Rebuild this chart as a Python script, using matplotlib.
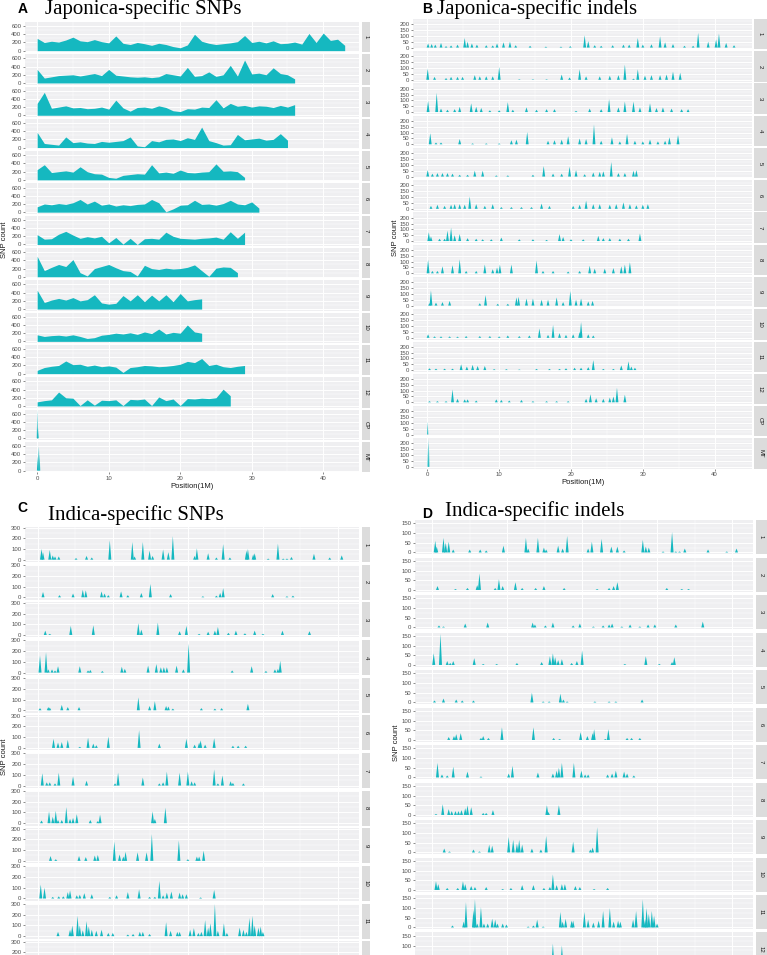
import numpy as np
import matplotlib.pyplot as plt

plt.rcParams['font.family'] = ['Liberation Sans', 'DejaVu Sans']

# ---------------- A: japonica-specific SNPs (count per 1M window) ----------------
a1 = [300, 200, 230, 210, 260, 330, 240, 220, 270, 220, 190, 360, 180, 150, 200, 170, 130, 180, 150, 100,
      70, 140, 400, 230, 180, 150, 170, 190, 220, 370, 200, 230, 190, 240, 170, 180, 210, 160, 420, 200,
      430, 250, 280, 130]
a2 = [330, 120, 150, 180, 190, 200, 170, 200, 230, 180, 330, 190, 170, 150, 140, 150, 130, 150, 230, 200,
      170, 380, 160, 180, 270, 160, 200, 430, 170, 560, 220, 240, 200, 370, 230, 200, 100]
a3 = [290, 560, 170, 200, 230, 180, 190, 160, 170, 200, 150, 370, 180, 100, 190, 200, 170, 230, 190, 110,
      90, 160, 150, 200, 190, 380, 180, 290, 220, 240, 200, 230, 220, 190, 240, 200, 260]
a4 = [370, 100, 80, 60, 260, 120, 140, 110, 100, 150, 130, 150, 170, 260, 40, 20, 170, 140, 200, 210,
      170, 240, 200, 500, 170, 120, 60, 70, 320, 190, 210, 230, 180, 200, 340, 180]
a5 = [250, 370, 180, 200, 220, 190, 320, 200, 150, 140, 60, 40, 110, 130, 150, 140, 370, 170, 190, 160,
      240, 180, 170, 190, 200, 390, 210, 220, 200, 60]
a6 = [130, 200, 180, 210, 190, 230, 310, 200, 270, 170, 200, 150, 180, 160, 190, 200, 310, 230, 10, 80,
      170, 180, 290, 190, 200, 170, 210, 290, 200, 180, 250, 100]
a7 = [240, 130, 140, 250, 320, 230, 150, 190, 160, 200, 40, 170, 10, 150, 0, 140, 150, 130, 300, 200,
      150, 140, 130, 150, 160, 180, 130, 310, 150, 300]
a8 = [500, 150, 230, 300, 250, 420, 100, 20, 200, 250, 300, 220, 150, 130, 20, 280, 200, 180, 210, 190,
      200, 230, 290, 150, 10, 210, 240, 230, 100]
a9 = [460, 160, 220, 260, 220, 280, 200, 230, 350, 150, 120, 140, 330, 200, 350, 180, 340, 200, 350, 180,
      380, 200, 230, 250]
a10 = [160, 120, 140, 150, 130, 160, 120, 70, 90, 150, 170, 200, 180, 210, 170, 230, 190, 300, 180, 220,
       200, 400, 230, 200]
a11 = [80, 150, 180, 200, 310, 220, 230, 180, 210, 170, 190, 160, 30, 150, 170, 200, 190, 170, 180, 200,
       230, 300, 270, 370, 200, 230, 170, 150, 180, 200]
a12 = [100, 130, 150, 340, 200, 190, 10, 150, 20, 140, 130, 150, 10, 160, 150, 170, 10, 220, 130, 170,
       10, 180, 170, 190, 180, 200, 410, 250]
a_cp = [(0.02, 690), (0.08, 280), (0.12, 250)]
a_mt = [(0.05, 350), (0.15, 560), (0.25, 600), (0.35, 400)]

# ---------------- B: japonica-specific indels (position, count) ----------------
b1 = [(0.1, 35), (0.6, 30), (1.1, 25), (1.9, 40), (2.6, 12), (3.3, 18), (4.2, 25), (5.2, 82), (5.6, 50),
      (6.2, 35), (6.9, 25), (8.2, 20), (9.1, 18), (9.7, 35), (10.6, 45), (11.5, 50), (12.3, 20), (14.3, 15),
      (16.5, 8), (18.6, 8), (19.9, 12), (21.9, 105), (22.4, 55), (23.3, 20), (24.2, 15), (25.8, 20),
      (27.3, 25), (28.1, 25), (29.3, 82), (30.0, 25), (31.2, 28), (32.4, 97), (33.1, 45), (34.2, 30),
      (35.8, 15), (37.0, 15), (37.7, 126), (39.1, 50), (40.2, 70), (40.6, 120), (41.6, 40), (42.7, 20)]
b2 = [(0.05, 95), (1.0, 25), (2.6, 15), (3.3, 25), (4.2, 25), (4.9, 25), (6.6, 40), (7.3, 30), (8.2, 30),
      (9.1, 30), (10.0, 110), (12.8, 5), (14.7, 5), (16.6, 5), (18.7, 45), (19.8, 20), (21.2, 90), (22.1, 30),
      (24.0, 30), (25.4, 35), (26.6, 40), (27.5, 130), (28.7, 10), (29.3, 90), (30.3, 35), (31.2, 40),
      (32.4, 40), (33.3, 45), (34.2, 70), (35.2, 60)]
b3 = [(0.1, 95), (1.3, 165), (1.9, 30), (2.8, 20), (3.8, 25), (4.5, 45), (6.1, 75), (6.8, 45), (7.5, 35),
      (8.7, 15), (10.0, 15), (11.2, 85), (11.9, 20), (13.8, 40), (15.2, 20), (16.6, 25), (17.7, 25),
      (20.7, 10), (22.6, 30), (24.2, 25), (25.3, 110), (26.6, 40), (27.5, 90), (28.7, 90), (29.6, 40),
      (31.0, 75), (31.9, 35), (32.8, 40), (34.0, 30), (35.4, 25), (36.3, 25)]
b4 = [(0.4, 95), (1.2, 15), (1.9, 15), (4.5, 45), (6.3, 8), (8.2, 8), (10.0, 8), (11.7, 35), (12.4, 40),
      (13.9, 105), (16.8, 30), (17.7, 35), (18.7, 40), (19.6, 70), (21.2, 50), (22.1, 45), (23.2, 170),
      (24.2, 30), (25.7, 60), (26.8, 25), (27.8, 90), (28.9, 30), (30.0, 25), (31.0, 40), (32.1, 25),
      (33.1, 30), (33.7, 60), (34.9, 80)]
b5 = [(0.05, 55), (0.7, 25), (1.4, 30), (2.1, 30), (2.8, 30), (3.5, 25), (4.5, 15), (5.6, 15), (6.6, 50),
      (7.7, 50), (9.6, 10), (11.2, 10), (14.7, 15), (16.2, 90), (17.5, 25), (18.7, 25), (19.8, 85), (20.7, 55),
      (21.9, 20), (23.1, 35), (24.0, 40), (24.5, 45), (25.6, 125), (26.6, 30), (27.5, 30), (28.7, 50),
      (29.1, 55)]
b6 = [(0.5, 25), (1.4, 35), (2.4, 25), (3.3, 35), (3.8, 40), (4.5, 40), (5.2, 35), (5.9, 105), (6.8, 40),
      (8.0, 25), (9.1, 40), (10.3, 15), (11.7, 15), (13.1, 15), (14.5, 15), (15.9, 45), (17.0, 25),
      (20.3, 25), (21.2, 35), (22.1, 70), (23.1, 40), (24.0, 40), (25.4, 35), (26.3, 40), (27.3, 55),
      (28.2, 40), (29.1, 30), (30.0, 35), (30.7, 40)]
b7 = [(0.2, 75), (0.5, 40), (1.7, 20), (2.4, 20), (2.8, 90), (3.3, 115), (3.8, 50), (4.5, 60), (5.6, 25),
      (6.8, 20), (7.7, 15), (8.9, 15), (10.3, 30), (12.8, 15), (14.7, 15), (16.6, 10), (18.4, 60), (18.9, 35),
      (20.0, 15), (21.7, 15), (23.8, 45), (24.5, 25), (25.4, 25), (26.8, 20), (28.0, 20), (29.6, 65)]
b8 = [(0.1, 115), (0.7, 20), (1.4, 20), (2.1, 60), (3.5, 70), (4.5, 120), (5.4, 20), (6.8, 20), (8.0, 75),
      (9.1, 35), (9.7, 50), (10.1, 75), (11.7, 75), (15.2, 110), (16.1, 20), (17.5, 20), (19.6, 15),
      (21.2, 20), (22.6, 65), (23.3, 40), (24.7, 40), (25.9, 45), (27.0, 60), (27.5, 75), (28.2, 95)]
b9 = [(0.3, 20), (0.5, 130), (1.2, 25), (2.1, 30), (3.1, 40), (7.3, 20), (8.1, 90), (9.8, 15), (11.2, 15),
      (12.4, 70), (12.7, 75), (13.8, 60), (14.7, 60), (15.9, 50), (16.8, 50), (18.0, 70), (18.9, 30),
      (19.9, 125), (20.7, 50), (21.4, 60), (22.4, 35), (23.0, 40)]
b10 = [(0.1, 30), (1.0, 12), (1.9, 12), (3.1, 12), (4.2, 10), (5.4, 15), (7.3, 15), (8.7, 15), (10.0, 12),
       (11.2, 20), (12.8, 15), (14.2, 20), (15.6, 80), (16.8, 25), (17.5, 110), (18.4, 40), (19.3, 25),
       (20.3, 30), (21.2, 50), (21.4, 135), (22.4, 30), (23.1, 20)]
b11 = [(0.3, 15), (1.2, 12), (2.4, 12), (3.5, 12), (4.7, 50), (5.5, 30), (6.3, 45), (7.0, 35), (8.0, 35),
       (9.3, 8), (11.0, 8), (12.8, 5), (15.2, 10), (17.0, 10), (18.4, 10), (19.3, 15), (20.5, 20), (21.4, 20),
       (22.4, 25), (23.1, 85), (24.5, 10), (25.9, 10), (27.0, 40), (28.0, 75), (28.4, 30), (28.9, 20)]
b12 = [(0.3, 10), (1.4, 10), (2.6, 10), (3.5, 110), (4.2, 30), (5.2, 25), (5.6, 25), (6.8, 15), (9.6, 25),
       (10.3, 20), (11.4, 15), (13.1, 20), (14.7, 10), (16.6, 10), (18.0, 10), (19.6, 10), (22.1, 30),
       (22.7, 70), (23.5, 35), (24.5, 30), (25.4, 40), (25.9, 50), (26.4, 125), (27.5, 65)]
b_cp = [(0.05, 110)]
b_mt = [(0.1, 200), (0.2, 240)]

# ---------------- C: indica-specific SNPs (position, count) ----------------
c1 = [(0.5, 100), (0.7, 70), (1.6, 90), (2.0, 40), (2.3, 30), (2.8, 30), (5.1, 15), (6.5, 35), (7.2, 20),
      (9.6, 180), (12.6, 165), (12.9, 30), (14.0, 165), (14.9, 85), (15.3, 35), (16.7, 95), (17.4, 70),
      (18.0, 220), (20.9, 35), (21.2, 105), (22.7, 60), (23.8, 20), (24.7, 145), (25.6, 20), (27.8, 85),
      (28.0, 100), (28.7, 50), (28.9, 60), (30.7, 10), (32.0, 150), (32.7, 10), (33.2, 10), (33.8, 25),
      (36.8, 55), (38.9, 20), (40.5, 40)]
c2 = [(0.7, 50), (2.9, 20), (4.7, 35), (6.0, 70), (6.4, 65), (8.5, 55), (8.9, 35), (9.4, 20), (11.1, 55),
      (12.0, 20), (13.8, 40), (15.0, 125), (17.7, 30), (22.0, 10), (23.8, 15), (24.3, 40), (24.7, 85),
      (31.3, 30), (33.2, 10), (34.0, 15)]
c3 = [(1.0, 40), (1.6, 10), (4.4, 85), (7.4, 90), (13.4, 110), (13.8, 50), (16.0, 115), (18.9, 35),
      (19.8, 85), (21.5, 10), (22.7, 30), (23.6, 40), (24.0, 75), (25.4, 20), (26.4, 40), (27.6, 15),
      (28.9, 40), (30.0, 10), (32.6, 40), (36.2, 35)]
c4 = [(0.3, 160), (1.1, 190), (1.4, 30), (1.9, 30), (2.3, 20), (2.7, 60), (5.6, 60), (6.7, 20), (7.0, 25),
      (8.6, 15), (11.2, 55), (11.6, 35), (14.7, 65), (15.8, 80), (16.4, 50), (16.8, 50), (17.2, 50),
      (18.5, 65), (19.4, 30), (20.1, 270), (25.9, 20), (28.5, 60), (30.4, 15), (31.6, 30), (32.0, 35),
      (32.3, 110)]
c5 = [(0.3, 20), (1.4, 30), (1.6, 25), (3.2, 50), (4.0, 30), (5.5, 30), (13.4, 120), (14.9, 40), (15.6, 85),
      (17.1, 40), (17.4, 35), (18.0, 15), (21.8, 20), (23.6, 15), (24.5, 20), (28.0, 60)]
c6 = [(2.1, 85), (2.7, 50), (3.2, 55), (4.0, 75), (5.6, 10), (6.7, 95), (7.4, 40), (7.8, 25), (9.4, 105),
      (13.5, 165), (16.2, 40), (19.8, 85), (20.9, 30), (21.5, 50), (21.7, 70), (22.3, 30), (23.5, 90),
      (26.0, 20), (26.7, 20), (27.7, 20)]
c7 = [(0.6, 115), (1.2, 30), (1.6, 30), (2.3, 20), (2.8, 120), (4.7, 85), (6.5, 45), (10.3, 20), (10.7, 120),
      (14.0, 75), (16.2, 20), (16.7, 30), (17.2, 130), (18.9, 120), (20.0, 130), (20.5, 40), (20.9, 30),
      (23.5, 150), (24.0, 20), (24.6, 95), (25.7, 40), (26.0, 25), (27.4, 20)]
c8 = [(0.5, 25), (1.5, 110), (2.0, 60), (2.4, 115), (2.7, 30), (3.2, 30), (3.8, 150), (4.3, 40), (4.7, 50),
      (5.2, 85), (7.0, 30), (8.0, 20), (8.3, 80), (15.3, 110), (15.6, 40), (17.0, 145)]
c9 = [(1.7, 45), (2.4, 15), (5.5, 45), (6.4, 35), (7.6, 50), (8.0, 55), (10.2, 180), (10.9, 60), (11.4, 40),
      (11.7, 85), (13.3, 80), (14.5, 80), (15.2, 250), (18.8, 190), (20.0, 15), (21.2, 40), (21.5, 40),
      (22.1, 95)]
c10 = [(0.4, 130), (0.9, 100), (2.0, 15), (2.8, 20), (3.4, 20), (4.0, 60), (4.3, 75), (5.2, 30), (5.6, 35),
       (6.2, 50), (7.2, 40), (9.6, 15), (10.5, 30), (12.0, 60), (13.5, 85), (14.9, 15), (15.6, 15),
       (16.2, 165), (16.7, 30), (17.2, 55), (17.8, 65), (18.9, 55), (19.3, 40), (19.8, 40), (21.7, 10),
       (23.5, 80)]
c11 = [(2.7, 40), (4.3, 60), (4.6, 100), (5.3, 190), (5.6, 100), (6.0, 55), (6.5, 140), (6.8, 90), (7.2, 60),
       (7.8, 50), (8.5, 60), (9.4, 30), (10.0, 30), (12.0, 15), (12.7, 20), (13.6, 40), (14.0, 40), (14.9, 20),
       (17.1, 130), (17.7, 50), (18.6, 40), (18.9, 40), (20.3, 60), (20.8, 75), (21.4, 30), (21.8, 40),
       (22.3, 150), (22.7, 80), (23.0, 120), (23.6, 300), (24.0, 50), (24.8, 120), (25.2, 30), (26.9, 80),
       (27.4, 60), (27.8, 40), (28.2, 170), (28.6, 190), (28.9, 100), (29.4, 80), (29.7, 90), (30.0, 40)]
c12 = []

# ---------------- D: indica-specific indels (position, count) ----------------
d1 = [(0.4, 60), (0.6, 30), (1.5, 75), (1.8, 50), (2.2, 55), (2.8, 15), (5.0, 15), (6.4, 15), (7.2, 10),
      (9.5, 35), (12.5, 75), (12.8, 20), (14.1, 75), (14.9, 25), (15.2, 15), (16.8, 35), (17.4, 20), (18.0, 85),
      (20.8, 20), (21.3, 55), (22.6, 70), (23.9, 30), (24.7, 30), (25.6, 10), (28.1, 65), (28.5, 30),
      (28.9, 25), (30.8, 5), (32.0, 105), (32.5, 5), (33.0, 5), (33.7, 20), (36.8, 15), (39.3, 5), (40.6, 20)]
d2 = [(0.7, 20), (3.1, 5), (4.7, 10), (6.0, 25), (6.3, 85), (8.4, 10), (8.9, 55), (9.4, 20), (11.1, 40),
      (12.0, 10), (13.8, 10), (14.9, 20), (17.6, 10), (22.0, 5), (23.6, 10), (24.2, 20), (24.7, 40),
      (31.3, 10), (33.3, 5), (34.2, 5)]
d3 = [(0.9, 10), (1.5, 5), (4.4, 20), (7.4, 25), (13.4, 25), (13.7, 15), (15.1, 10), (16.1, 25), (18.8, 10),
      (19.7, 20), (21.5, 5), (22.8, 10), (23.6, 15), (24.0, 20), (25.3, 5), (26.4, 15), (27.7, 5), (28.8, 15),
      (29.7, 15), (32.5, 15), (36.1, 30)]
d4 = [(0.2, 60), (1.1, 160), (2.0, 20), (2.4, 10), (2.8, 20), (5.6, 35), (6.8, 5), (8.6, 5), (11.3, 10),
      (14.6, 15), (15.7, 45), (16.1, 60), (16.4, 40), (16.8, 25), (17.3, 30), (18.6, 10), (19.3, 20),
      (20.0, 75), (25.7, 5), (28.5, 45), (30.3, 5), (32.0, 15), (32.3, 40)]
d5 = [(0.3, 10), (1.5, 20), (3.2, 15), (4.0, 10), (5.5, 10), (13.3, 50), (14.8, 5), (15.6, 5), (17.1, 45),
      (17.5, 15), (18.0, 5), (21.7, 5), (23.6, 5), (24.5, 5), (28.0, 15)]
d6 = [(2.2, 15), (2.9, 20), (3.2, 30), (3.8, 35), (6.5, 10), (6.8, 20), (7.5, 10), (9.3, 65), (13.5, 65),
      (16.2, 10), (17.0, 5), (19.8, 40), (20.7, 20), (21.4, 35), (21.6, 55), (23.1, 5), (23.5, 55), (26.0, 10),
      (26.6, 10), (27.7, 10)]
d7 = [(0.7, 75), (1.3, 15), (2.0, 10), (2.8, 55), (4.7, 30), (6.5, 5), (10.2, 20), (10.7, 60), (14.1, 25),
      (16.1, 20), (16.6, 35), (16.9, 50), (17.3, 75), (18.9, 75), (19.9, 35), (20.4, 15), (20.8, 15),
      (23.4, 15), (24.0, 20), (24.5, 35), (25.6, 30), (26.0, 20), (26.9, 10)]
d8 = [(0.5, 5), (1.4, 55), (2.2, 30), (2.6, 20), (3.1, 20), (3.5, 20), (3.9, 25), (4.4, 35), (4.7, 50),
      (5.2, 40), (6.8, 10), (7.2, 10), (8.1, 25), (15.3, 50), (15.5, 15), (16.9, 50)]
d9 = [(1.6, 20), (2.3, 5), (5.5, 15), (6.3, 5), (7.6, 40), (8.0, 35), (10.2, 80), (10.8, 65), (11.3, 45),
      (11.6, 65), (12.0, 40), (13.3, 20), (14.5, 15), (15.2, 85), (18.8, 55), (21.1, 15), (21.4, 25), (22.0, 130)]
d10 = [(0.5, 45), (0.8, 30), (2.0, 10), (3.4, 10), (4.1, 45), (4.4, 30), (5.2, 20), (5.7, 15), (7.2, 15),
       (9.4, 5), (10.5, 10), (12.0, 25), (13.5, 25), (14.9, 10), (15.7, 15), (16.1, 80), (16.6, 25), (17.3, 30),
       (17.7, 30), (19.1, 20), (19.7, 15), (21.6, 5), (23.4, 10)]
d11 = [(2.7, 10), (4.2, 30), (4.5, 130), (5.5, 90), (5.7, 145), (6.0, 20), (6.5, 105), (6.9, 20), (7.4, 20),
       (8.0, 45), (8.4, 40), (8.7, 20), (9.4, 20), (9.9, 15), (12.8, 5), (13.5, 10), (14.0, 40), (14.8, 5),
       (17.1, 80), (17.4, 30), (17.8, 45), (18.6, 35), (18.8, 35), (20.3, 80), (20.8, 40), (21.5, 25),
       (22.2, 35), (22.8, 85), (23.7, 100), (24.2, 30), (24.8, 35), (25.1, 30), (26.8, 40), (27.2, 85),
       (28.1, 145), (28.4, 40), (28.6, 100), (28.9, 70), (29.3, 85), (29.6, 60), (30.0, 20)]
d12 = [(16.1, 110), (17.3, 100)]

chroms = ['1', '2', '3', '4', '5', '6', '7', '8', '9', '10', '11', '12', 'CP', 'MT']

TEAL = '#15B8C0'
BG = '#EFEFF1'
STRIP = '#DCDCDC'
W, H = 767, 955

fig = plt.figure(figsize=(W / 100, H / 100), dpi=100)
fig.patch.set_facecolor('white')


def facet(left, top, width, height, strip_l, strip_w, xlim, ylim, yticks, label, last=False):
    ax = fig.add_axes([left / W, 1 - (top + height) / H, width / W, height / H])
    ax.set_facecolor(BG)
    ax.set_xlim(xlim)
    ax.set_ylim(ylim)
    ax.set_xticks([0, 10, 20, 30, 40])
    ax.set_xticks([5, 15, 25, 35], minor=True)
    ax.set_yticks(yticks)
    # labels that would fall below the bottom edge of the figure are dropped
    labs = []
    for t in yticks:
        ypx = top + (ylim[1] - t) / (ylim[1] - ylim[0]) * height
        labs.append(str(t) if ypx < H - 1 else '')
    ax.set_yticklabels(labs)
    step = yticks[1] - yticks[0]
    ax.set_yticks([t + step / 2 for t in yticks if t + step / 2 < ylim[1]], minor=True)
    ax.grid(True, which='major', color='white', lw=0.7)
    ax.grid(True, which='minor', color='white', lw=0.35)
    ax.set_axisbelow(True)
    for s in ax.spines.values():
        s.set_visible(False)
    ax.tick_params(which='major', length=1.6, width=0.4, color='#333333',
                   labelsize=4.3, labelcolor='#4d4d4d', pad=1)
    ax.tick_params(which='minor', length=0)
    ax.tick_params(axis='x', labelbottom=last, length=1.6 if last else 0)
    sa = fig.add_axes([strip_l / W, 1 - (top + height) / H, strip_w / W, height / H])
    sa.set_facecolor(STRIP)
    sa.set_xticks([])
    sa.set_yticks([])
    for s in sa.spines.values():
        s.set_visible(False)
    if top + height / 2 < H - 5:
        sa.text(0.5, 0.5, label, rotation=-90, ha='center', va='center',
                fontsize=4.3, color='#1a1a1a', transform=sa.transAxes)
    return ax


def draw_series(ax, vals):
    ax.fill_between(np.arange(len(vals)), vals, 0, color=TEAL, lw=0)


def draw_peaks(ax, peaks, w=0.2):
    for p, h in peaks:
        ax.fill([p - w, p, p + w], [0, h, 0], color=TEAL, lw=0)


# panel A
a_series = [a1, a2, a3, a4, a5, a6, a7, a8, a9, a10, a11, a12]
for i in range(14):
    ax = facet(25, 22 + i * 32.3, 334, 30.3, 361.7, 8.5, (-1.7, 45.0), (-40, 700),
               [0, 200, 400, 600], chroms[i], last=(i == 13))
    if i < 12:
        draw_series(ax, a_series[i])
    else:
        draw_peaks(ax, a_cp if i == 12 else a_mt, w=0.08)
    if i == 13:
        ax.set_xlabel('Position(1M)', fontsize=5.5, labelpad=1.5, color='#1a1a1a')

# panel B
b_peaks = [b1, b2, b3, b4, b5, b6, b7, b8, b9, b10, b11, b12, b_cp, b_mt]
for i in range(14):
    ax = facet(413, 19 + i * 32.25, 339, 30.3, 754, 13, (-2.0, 45.2), (-15, 245),
               [0, 50, 100, 150, 200], chroms[i], last=(i == 13))
    draw_peaks(ax, b_peaks[i], w=0.08 if i >= 12 else 0.2)
    if i == 13:
        ax.set_xlabel('Position(1M)', fontsize=5.5, labelpad=1.5, color='#1a1a1a')

# panel C
c_peaks = [c1, c2, c3, c4, c5, c6, c7, c8, c9, c10, c11, c12]
for i in range(12):
    ax = facet(25, 527 + i * 37.65, 334, 35, 361.7, 8.5, (-1.7, 42.8), (-22, 305),
               [0, 100, 200, 300], chroms[i])
    draw_peaks(ax, c_peaks[i])

# panel D
d_peaks = [d1, d2, d3, d4, d5, d6, d7, d8, d9, d10, d11, d12]
for i in range(12):
    ax = facet(415, 520 + i * 37.5, 338, 34, 755.5, 12, (-2.3, 42.8), (-8, 167),
               [0, 50, 100, 150], chroms[i])
    draw_peaks(ax, d_peaks[i])

# y labels
for x, y in [(5, 240), (395, 238), (5, 757), (397, 743)]:
    fig.text(x / W, 1 - y / H, 'SNP count', rotation=90, ha='center', va='center',
             fontsize=5.5, color='#1a1a1a')

# titles
titles = [('A', 18, 13, 45, 14, 'Japonica-specific SNPs'),
          ('B', 422, 13, 437, 14, 'Japonica-specific indels'),
          ('C', 17, 512, 48, 520, 'Indica-specific SNPs'),
          ('D', 422, 518, 445, 516, 'Indica-specific indels')]
for let, lx, ly, tx, ty, txt in titles:
    fig.text(lx / W, 1 - ly / H, let, fontsize=10, fontweight='bold', va='baseline')
    fig.text(tx / W, 1 - ty / H, txt, fontsize=15, family='Liberation Serif', va='baseline')

fig.savefig('out.png', dpi=100)
